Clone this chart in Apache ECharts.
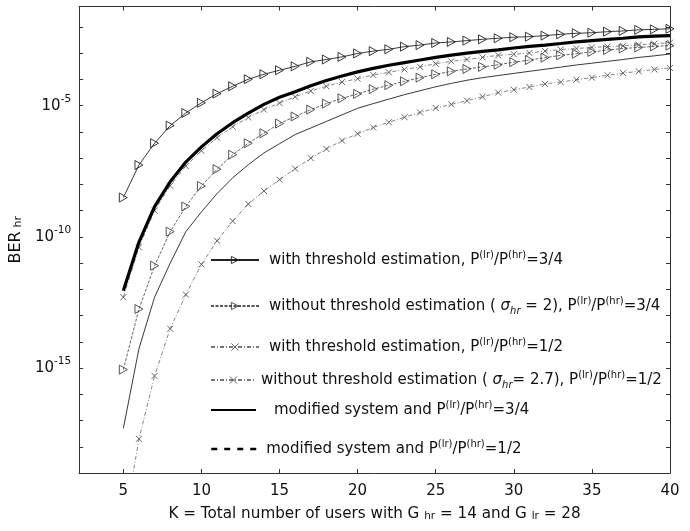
<!DOCTYPE html>
<html><head><meta charset="utf-8">
<script src="https://cdn.jsdelivr.net/npm/echarts@6/dist/echarts.min.js"></script>
<style>html,body{margin:0;padding:0;background:#fff}#c{width:690px;height:531px}</style>
</head><body><div id="c"></div>
<script>
// K = total number of users
const K = [5,6,7,8,9,10,11,12,13,14,15,16,17,18,19,20,21,22,23,24,25,26,27,28,29,30,31,32,33,34,35,36,37,38,39,40];
// with threshold estimation, P(lr)/P(hr)=3/4
const berThr34 = [3.16e-9,5.50e-8,3.72e-7,1.74e-6,5.25e-6,1.29e-5,2.88e-5,5.50e-5,1.02e-4,1.58e-4,2.24e-4,3.16e-4,4.68e-4,5.75e-4,7.24e-4,9.77e-4,1.20e-3,1.41e-3,1.78e-3,2.04e-3,2.45e-3,2.69e-3,3.02e-3,3.39e-3,3.72e-3,4.07e-3,4.27e-3,4.68e-3,5.25e-3,5.75e-3,6.03e-3,6.61e-3,7.08e-3,7.76e-3,8.13e-3,8.51e-3];
// without threshold estimation (sigma=2), 3/4
const berNoThr34 = [8.71e-16,1.78e-13,7.94e-12,1.58e-10,1.45e-9,8.71e-9,3.80e-8,1.35e-7,3.72e-7,8.91e-7,2.09e-6,3.89e-6,7.08e-6,1.20e-5,1.91e-5,2.82e-5,4.27e-5,6.03e-5,8.51e-5,1.17e-4,1.58e-4,2.04e-4,2.51e-4,3.02e-4,3.63e-4,4.57e-4,5.50e-4,6.76e-4,8.32e-4,9.55e-4,1.12e-3,1.32e-3,1.51e-3,1.66e-3,1.82e-3,1.95e-3];
// with threshold estimation, 1/2
const berThr12 = [5.01e-13,3.98e-11,1.0e-9,8.91e-9,5.01e-8,1.91e-7,6.03e-7,1.58e-6,3.55e-6,7.08e-6,1.26e-5,2.19e-5,3.63e-5,5.50e-5,7.94e-5,1.07e-4,1.48e-4,1.86e-4,2.40e-4,3.02e-4,3.98e-4,4.90e-4,5.75e-4,6.92e-4,8.32e-4,9.12e-4,1.02e-3,1.20e-3,1.38e-3,1.51e-3,1.66e-3,1.78e-3,1.91e-3,2.09e-3,2.29e-3,2.51e-3];
// without threshold estimation (sigma=2.7), 1/2
const berNoThr12 = [6.31e-22,2.0e-18,5.01e-16,3.16e-14,6.31e-13,8.91e-12,7.08e-11,3.98e-10,1.78e-9,5.62e-9,1.51e-8,3.98e-8,1.0e-7,2.24e-7,4.68e-7,8.51e-7,1.48e-6,2.34e-6,3.63e-6,5.50e-6,8.13e-6,1.12e-5,1.55e-5,2.19e-5,3.16e-5,4.07e-5,5.13e-5,6.76e-5,7.94e-5,9.77e-5,1.17e-4,1.45e-4,1.74e-4,2.04e-4,2.40e-4,2.75e-4];
// modified system, 3/4
const berMod34 = [8.91e-13,6.31e-11,1.41e-9,1.26e-8,7.08e-8,2.69e-7,8.51e-7,2.24e-6,5.25e-6,1.12e-5,2.09e-5,3.39e-5,5.75e-5,9.12e-5,1.35e-4,1.95e-4,2.63e-4,3.47e-4,4.37e-4,5.50e-4,6.92e-4,8.51e-4,1.0e-3,1.17e-3,1.35e-3,1.58e-3,1.82e-3,2.04e-3,2.34e-3,2.69e-3,3.02e-3,3.39e-3,3.72e-3,4.17e-3,4.47e-3,4.68e-3];
// modified system, 1/2
const berMod12 = [5.01e-18,5.50e-15,5.01e-13,1.0e-11,1.58e-10,8.91e-10,4.47e-9,1.78e-8,5.62e-8,1.58e-7,3.55e-7,7.94e-7,1.41e-6,2.51e-6,4.47e-6,7.94e-6,1.20e-5,1.78e-5,2.63e-5,3.72e-5,5.25e-5,7.08e-5,9.33e-5,1.17e-4,1.41e-4,1.70e-4,2.04e-4,2.45e-4,2.95e-4,3.55e-4,4.17e-4,4.90e-4,5.75e-4,6.92e-4,7.94e-4,9.33e-4];

const xTicks = [5,10,15,20,25,30,35,40];
const yLabelExps = [-5,-10,-15];

const legendRich = {
  thr34: '{n|with threshold estimation, P}{sp|(lr)}{n|/P}{sp|(hr)}{n|=3/4}',
  nothr34: '{n|without threshold estimation ( }{gi|σ}{sb|hr}{n| = 2), P}{sp|(lr)}{n|/P}{sp|(hr)}{n|=3/4}',
  thr12: '{n|with threshold estimation, P}{sp|(lr)}{n|/P}{sp|(hr)}{n|=1/2}',
  nothr12: '{n|without threshold estimation ( }{gi|σ}{sb|hr}{n|= 2.7), P}{sp|(lr)}{n|/P}{sp|(hr)}{n|=1/2}',
  mod34: '{n|modified system and P}{sp|(lr)}{n|/P}{sp|(hr)}{n|=3/4}',
  mod12: '{n|modified system and P}{sp|(lr)}{n|/P}{sp|(hr)}{n|=1/2}'
};
const FONT = 'DejaVu Sans';
const LF = 15;
function rich(padLeft){
  return {
    n: {fontFamily: FONT, fontSize: LF, color: '#111', lineHeight: 20},
    sp: {fontFamily: FONT, fontSize: 10, color: '#111', lineHeight: 11, verticalAlign: 'top'},
    sb: {fontFamily: FONT, fontSize: 10, color: '#111', fontStyle: 'italic', lineHeight: 11, verticalAlign: 'bottom'},
    gi: {fontFamily: FONT, fontSize: LF, color: '#111', fontStyle: 'italic', lineHeight: 20},
    pad: {width: padLeft, lineHeight: 20}
  };
}
const legendPos = [
  {name:'thr34', top:250, w:48, pad:5, mk:'#222'},
  {name:'nothr34', top:296, w:48, pad:5, mk:'#444'},
  {name:'thr12', top:337, w:48, pad:5, mk:'#555'},
  {name:'nothr12', top:370, w:45, pad:0, mk:'#555'},
  {name:'mod34', top:400, w:45, pad:13},
  {name:'mod12', top:439, w:50, pad:0}
];

const TRI = 'path://M0,0L10,5L0,10Z';
const CROSS = 'path://M0,0L10,10M10,0L0,10';

const series = [
  {name:'thr34', data: K.map((k,i)=>[k, berThr34[i]]), symbol: TRI, symbolSize:[8,9],
   lineStyle:{color:'#222', width:0.9}, itemStyle:{color:'rgba(0,0,0,0)', borderColor:'#222', borderWidth:0.9}},
  {name:'nothr34', data: K.map((k,i)=>[k, berNoThr34[i]]), symbol: TRI, symbolSize:[8,9],
   lineStyle:{color:'#555', width:0.9, type:[3,1.5]}, itemStyle:{color:'rgba(0,0,0,0)', borderColor:'#444', borderWidth:0.9}},
  {name:'thr12', data: K.map((k,i)=>[k, berThr12[i]]), symbol: CROSS, symbolSize:6,
   lineStyle:{color:'#777', width:0.9, type:[4,2,1,2]}, itemStyle:{color:'rgba(0,0,0,0)', borderColor:'#555', borderWidth:0.9}},
  {name:'nothr12', data: K.map((k,i)=>[k, berNoThr12[i]]), symbol: CROSS, symbolSize:6,
   lineStyle:{color:'#777', width:0.9, type:[4,2,1,2]}, itemStyle:{color:'rgba(0,0,0,0)', borderColor:'#555', borderWidth:0.9}},
  {name:'mod34', data: K.map((k,i)=>[k, berMod34[i]]), symbol: 'circle', showSymbol:false,
   lineStyle:{color:'#000', width:3.2}, itemStyle:{color:'rgba(0,0,0,0)', borderWidth:0}},
  {name:'mod12', data: K.map((k,i)=>[k, berMod12[i]]), symbol: 'circle', showSymbol:false,
   lineStyle:{color:'#222', width:0.9}, itemStyle:{color:'rgba(0,0,0,0)', borderWidth:0}}
].map(s => Object.assign({type:'line', xAxisIndex:0, yAxisIndex:0, clip:true, animation:false, z: s.name==='mod34'?3:2}, s));

const legends = legendPos.map(p => {
  const item = {name: p.name};
  if (p.mk) item.itemStyle = {color:'rgba(0,0,0,0)', borderColor:p.mk, borderWidth:0.9};
  else item.itemStyle = {color:'rgba(0,0,0,0)', borderWidth:0};
  if (p.name === 'mod12') item.lineStyle = {type:[6,7], width:2.5, color:'#000'};
  return {
    data:[item], left: 210, top: p.top, padding: 0, itemWidth: p.w, itemHeight: 9,
    selectedMode: false, orient:'horizontal',
    formatter: n => (p.pad ? '{pad|}' : '') + legendRich[n],
    textStyle: {rich: rich(p.pad)}
  };
});

const xMin = 2.17, xMax = 40;
const yMin = 1e-19, yMax = 6.03e-2;
const axisCommon = {axisLine:{show:true, lineStyle:{color:'#333', width:1}}, splitLine:{show:false}};

const option = {
  animation: false,
  backgroundColor: '#fff',
  grid: {left: 78.5, right: 20, top: 6.5, bottom: 58, containLabel: false},
  legend: legends,
  xAxis: [
    Object.assign({type:'value', min:xMin, max:xMax, position:'bottom',
      axisTick:{inside:true, length:4, customValues: xTicks, lineStyle:{color:'#333'}},
      axisLabel:{customValues: xTicks, margin: 11, color:'#111', fontFamily: FONT, fontSize: 15},
      name: 'K = Total number of users with G {sb|hr} = 14 and G {sb|lr} = 28',
      nameLocation:'middle', nameGap: 34,
      nameTextStyle:{fontFamily: FONT, fontSize: 15.2, color:'#111',
        rich:{sb:{fontFamily: FONT, fontSize: 10.5, color:'#111', verticalAlign:'bottom', lineHeight: 11}}}
    }, axisCommon),
    Object.assign({type:'value', min:xMin, max:xMax, position:'top',
      axisTick:{inside:true, length:4, customValues: xTicks, lineStyle:{color:'#333'}},
      axisLabel:{show:false}}, axisCommon)
  ],
  yAxis: [
    Object.assign({type:'log', logBase:10, min:yMin, max:yMax, position:'left', interval: 1,
      axisTick:{inside:true, length:4, lineStyle:{color:'#333'}},
      axisLabel:{margin: 8, color:'#111',
        formatter: v => { const e = Math.log10(v); const r = Math.round(e);
          if (Math.abs(e - r) < 1e-6 && yLabelExps.indexOf(r) >= 0) return '{b|10}{s|' + r + '}'; return ''; },
        rich:{b:{fontFamily: FONT, fontSize: 15, color:'#111', lineHeight: 24},
              s:{fontFamily: FONT, fontSize: 10.5, color:'#111', lineHeight: 10, verticalAlign:'top'}}},
      name: 'BER{sb|hr}', nameLocation:'middle', nameGap: 46, nameRotate: 90,
      nameTextStyle:{fontFamily: FONT, fontSize: 16, color:'#111',
        rich:{sb:{fontFamily: FONT, fontSize: 11, color:'#111', verticalAlign:'bottom', lineHeight: 11, padding:[0,0,0,4]}}}
    }, axisCommon),
    Object.assign({type:'log', logBase:10, min:yMin, max:yMax, position:'right', interval: 1,
      axisTick:{inside:true, length:4, lineStyle:{color:'#333'}},
      axisLabel:{show:false}}, axisCommon)
  ],
  series: series
};
const chart = echarts.init(document.getElementById('c'), null, {renderer:'canvas'});
chart.setOption(option);
</script></body></html>
